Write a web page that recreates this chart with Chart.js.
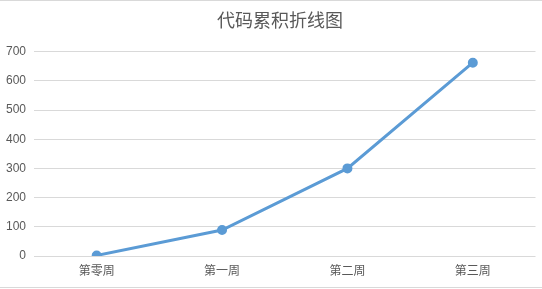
<!DOCTYPE html>
<html>
<head>
<meta charset="utf-8">
<script src="https://cdn.jsdelivr.net/npm/chart.js@4/dist/chart.umd.min.js"></script>
<style>
  html, body { margin: 0; padding: 0; background: #fff; }
  #wrap { width: 542px; height: 289px; }
</style>
</head>
<body>
<div id="wrap"><canvas id="chart" width="542" height="289"></canvas></div>
<script>
const weeks = ['第零周', '第一周', '第二周', '第三周'];
const lines = [2, 89, 300, 662];
const yTicks = [0, 100, 200, 300, 400, 500, 600, 700];

// top/bottom frame lines of the chart box, title nudged right like the original
const frame = {
  id: 'frame',
  afterLayout(chart){
    const t = chart.titleBlock;
    if(t){ t.left += 12; t.right += 12; }
  },
  beforeDraw(chart){
    const c = chart.ctx;
    c.save();
    c.strokeStyle = '#d9d9d9';
    c.lineWidth = 1;
    c.beginPath();
    c.moveTo(0, 0.5); c.lineTo(chart.width, 0.5);
    c.moveTo(0, chart.height - 1.5); c.lineTo(chart.width, chart.height - 1.5);
    c.stroke();
    c.restore();
  }
};

new Chart(document.getElementById('chart'), {
  type: 'line',
  data: {
    labels: weeks,
    datasets: [{
      label: '代码',
      data: lines,
      borderColor: '#5b9bd5',
      backgroundColor: '#5b9bd5',
      borderWidth: 3,
      pointRadius: 3.5,
      pointHoverRadius: 3.5,
      tension: 0
    }]
  },
  options: {
    responsive: false,
    animation: false,
    layout: { padding: { left: 0, right: 6, top: 0, bottom: 2 } },
    plugins: {
      legend: { display: false },
      tooltip: { enabled: false },
      title: {
        display: true,
        text: '代码累积折线图',
        color: '#595959',
        font: { family: '"Noto Sans CJK SC", sans-serif', size: 18, weight: 'normal' },
        padding: { top: 9, bottom: 21 }
      }
    },
    scales: {
      x: {
        offset: true,
        grid: { display: false, drawTicks: false },
        border: { display: false },
        ticks: {
          color: '#595959',
          padding: 7,
          font: { family: '"Noto Sans CJK SC", sans-serif', size: 12 }
        },
        afterFit: s => { s.height = 31; }
      },
      y: {
        min: 0,
        max: 700,
        afterBuildTicks: s => { s.ticks = yTicks.map(v => ({ value: v })); },
        grid: { color: '#d9d9d9', drawTicks: false },
        border: { display: false },
        ticks: {
          color: '#595959',
          padding: 8,
          font: { family: '"Liberation Sans", sans-serif', size: 12 }
        },
        afterFit: s => { s.width = 34; }
      }
    }
  },
  plugins: [frame]
});
</script>
</body>
</html>
